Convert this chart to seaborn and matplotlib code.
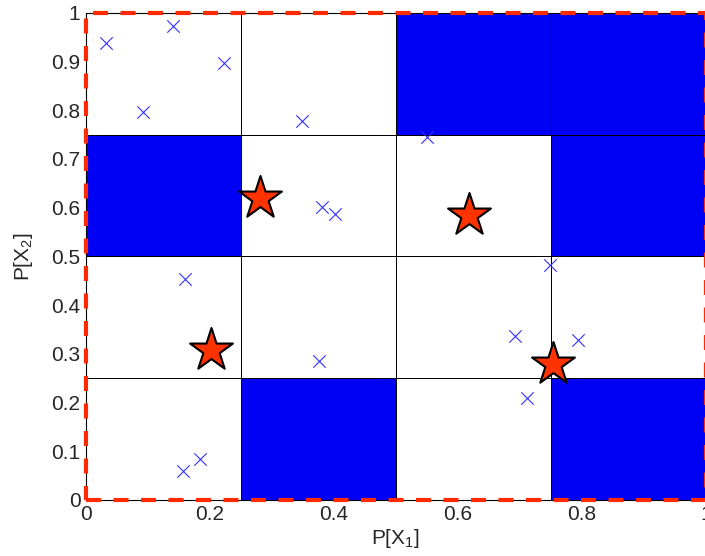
import numpy as np
import pandas as pd
import seaborn as sns
import matplotlib.pyplot as plt
from matplotlib.colors import ListedColormap

# grid cell edges and which cells are filled (rows = X2 bins, cols = X1 bins)
edges = [0, 0.25, 0.5, 0.75, 1.0]
filled = [[0, 1, 0, 1],
          [0, 0, 0, 0],
          [1, 0, 0, 1],
          [0, 0, 1, 1]]

# sample points (blue crosses)
sample_x = [0.032, 0.140, 0.223, 0.092, 0.348, 0.550, 0.381, 0.402,
            0.160, 0.376, 0.748, 0.692, 0.794, 0.711, 0.156, 0.184]
sample_y = [0.938, 0.973, 0.897, 0.797, 0.778, 0.745, 0.602, 0.587,
            0.454, 0.285, 0.483, 0.337, 0.329, 0.209, 0.060, 0.084]

# centres (red stars)
star_x = [0.281, 0.618, 0.202, 0.754]
star_y = [0.620, 0.585, 0.308, 0.279]

# bounding box
box_x = [0, 1, 1, 0, 0]
box_y = [0, 0, 1, 1, 0]

xticks = [0, 0.2, 0.4, 0.6, 0.8, 1]
yticks = [0, 0.1, 0.2, 0.3, 0.4, 0.5, 0.6, 0.7, 0.8, 0.9, 1]


def main():
    sns.set_style("white")
    plt.rcParams['font.family'] = ['Liberation Sans', 'DejaVu Sans']
    plt.rcParams['mathtext.fontset'] = 'custom'
    plt.rcParams['mathtext.rm'] = 'Liberation Sans'
    plt.rcParams['mathtext.it'] = 'Liberation Sans'

    fig = plt.figure(figsize=(7.05, 5.56), dpi=100)
    ax = fig.add_axes([0.122, 0.101, 0.879, 0.876])

    ax.pcolormesh(edges, edges, np.array(filled),
                  cmap=ListedColormap(['white', '#0000f5']),
                  edgecolors='black', linewidth=0.6)

    pts = pd.DataFrame({'x': sample_x, 'y': sample_y})
    sns.scatterplot(data=pts, x='x', y='y', marker='x', color='#3333ff',
                    s=80, linewidth=0.8, ax=ax, zorder=3)

    stars = pd.DataFrame({'x': star_x, 'y': star_y})
    sns.scatterplot(data=stars, x='x', y='y', marker='*', color='#ff3300',
                    edgecolor='black', linewidth=1.5, s=1050, ax=ax, zorder=4)

    ax.plot(box_x, box_y, color='#ff2a00', linewidth=3, dashes=(3.6, 3),
            clip_on=False, zorder=5)

    ax.set_xlim(0, 1)
    ax.set_ylim(0, 1)
    ax.set_xticks(xticks)
    ax.set_xticklabels(['0', '0.2', '0.4', '0.6', '0.8', '1'])
    ax.set_yticks(yticks)
    ax.set_yticklabels(['0', '0.1', '0.2', '0.3', '0.4', '0.5', '0.6', '0.7', '0.8', '0.9', '1'])
    ax.tick_params(direction='in', top=True, right=True, length=5, width=0.8,
                   labelsize=15, pad=4)
    for s in ax.spines.values():
        s.set_linewidth(0.8)
        s.set_color('black')

    ax.set_xlabel('P[X$_1$]', fontsize=15, labelpad=2)
    ax.set_ylabel('P[X$_2$]', fontsize=15, labelpad=12)

    fig.savefig('out.png', dpi=100)


if __name__ == '__main__':
    main()
